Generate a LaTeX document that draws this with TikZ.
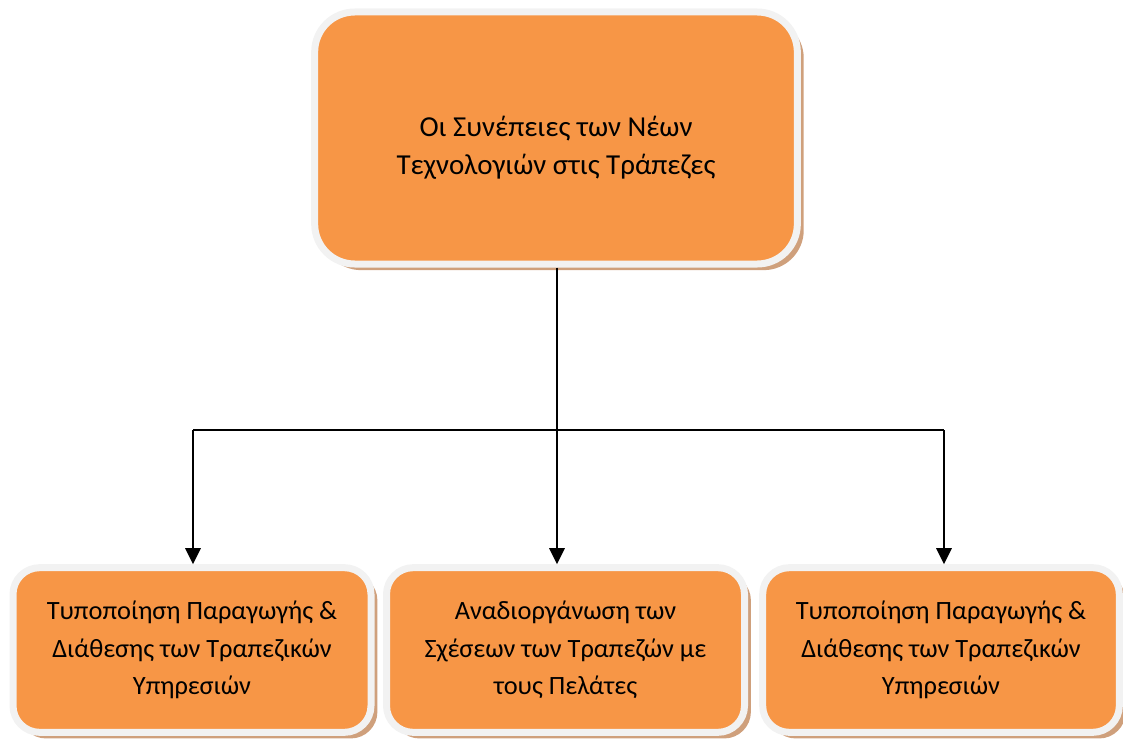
\documentclass[tikz,border=0pt]{standalone}
\usepackage{fontspec}
\setmainfont{Carlito}
\usetikzlibrary{arrows.meta,shadows}
\definecolor{boxfill}{HTML}{F79646}
\definecolor{boxrim}{HTML}{F2F2F2}
\definecolor{boxshade}{HTML}{CFA07C}
\tikzset{
  card/.style={draw=boxrim, line width=5.25pt, fill=boxfill, rounded corners=#1,
    align=center, inner sep=0pt,
    font=\fontsize{19.8}{28}\selectfont,
    drop shadow={shadow xshift=4.8pt, shadow yshift=-4.6pt, fill=boxshade, opacity=1}},
  caption/.style={align=center, inner sep=0pt, font=\fontsize{21.7}{28.5}\selectfont},
  link/.style={line width=1.5pt, draw=black},
  pointer/.style={link, -{Triangle[width=11.5pt,length=12pt]}}
}
\begin{document}
\begin{tikzpicture}[x=0.75pt, y=-0.75pt]
\useasboundingbox (0,0) rectangle (1123,738);

% heading box, its title set a little below the middle
\node[card=30pt, minimum width=362pt, minimum height=189pt,
      label={[caption, yshift=-7pt]center:Οι Συνέπειες των Νέων\\Τεχνολογιών στις Τράπεζες}]
  (top) at (556,138) {};

% three consequence boxes
\node[card=20pt, minimum width=268.5pt, minimum height=123.5pt, yshift=1.5pt] (b1) at (192,652)
  {Τυποποίηση Παραγωγής \&\\Διάθεσης των Τραπεζικών\\Υπηρεσιών};
\node[card=20pt, minimum width=268.5pt, minimum height=123.5pt, yshift=1.5pt] (b2) at (565.5,652)
  {Αναδιοργάνωση των\\Σχέσεων των Τραπεζών με\\τους Πελάτες};
\node[card=20pt, minimum width=267.5pt, minimum height=123.5pt, yshift=1.5pt] (b3) at (941,652)
  {Τυποποίηση Παραγωγής \&\\Διάθεσης των Τραπεζικών\\Υπηρεσιών};

% branching connectors
\coordinate (j) at (557,430);
\coordinate (l) at (193,430);
\coordinate (r) at (944,430);
\draw[link] (top.south -| j) -- (j);
\draw[link] (l) -- (r);
\draw[pointer] (l) -- (l |- b1.north);
\draw[pointer] (j) -- (j |- b2.north);
\draw[pointer] (r) -- (r |- b3.north);
\end{tikzpicture}
\end{document}
